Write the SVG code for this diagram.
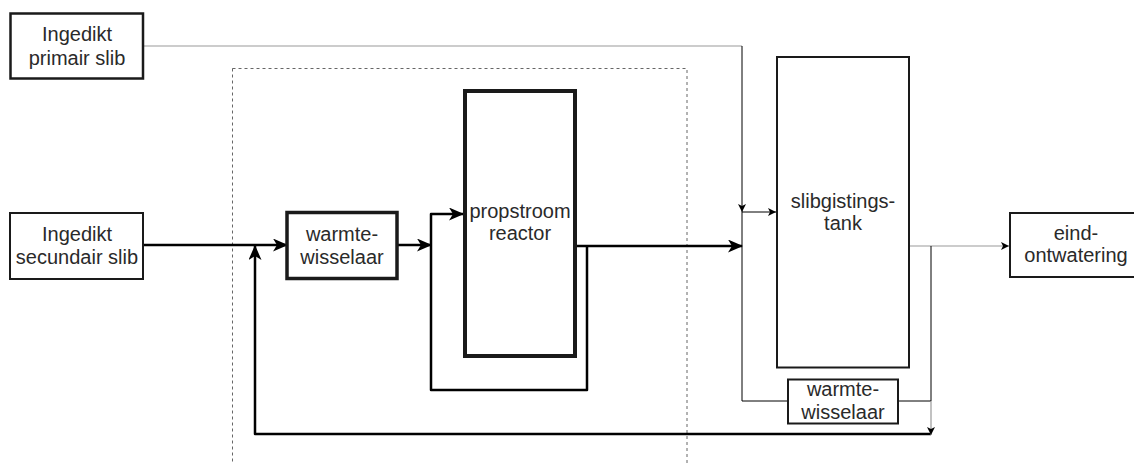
<svg xmlns="http://www.w3.org/2000/svg" width="1134" height="464" viewBox="0 0 1134 464">
<style>
.box{fill:#fff;stroke:#1a1a1a}
.t{font-family:"Liberation Sans",Arial,sans-serif;font-size:20px;fill:#2a2a2a;text-anchor:middle}
.thick{fill:none;stroke:#000;stroke-width:2.5;stroke-linejoin:round}
.thin{fill:none;stroke:#000;stroke-width:1}
.gray{fill:none;stroke:#999;stroke-width:1.2}
</style>
<defs>
<marker id="big" viewBox="0 0 15 13" refX="14" refY="6.5" markerWidth="15" markerHeight="13" markerUnits="userSpaceOnUse" orient="auto">
<path d="M0,0 L15,6.5 L0,13 L4,6.5 Z" fill="#000"/>
</marker>
<marker id="small" viewBox="0 0 8 8" refX="8" refY="4" markerWidth="8" markerHeight="8" markerUnits="userSpaceOnUse" orient="auto">
<path d="M0,0 L8,4 L0,8 L2,4 Z" fill="#000"/>
</marker>
</defs>
<rect x="232.5" y="68.5" width="454.5" height="420" fill="none" stroke="#666" stroke-width="1" stroke-dasharray="3,3"/>
<g id="connectors">
<path class="gray" d="M143,46 H742"/>
<path class="thin" d="M742,46 V212" marker-end="url(#small)"/>
<path class="thin" d="M742,212 H776" marker-end="url(#small)"/>
<path class="thin" d="M742,212 V401 H788"/>
<path class="thick" d="M143,245 H287" marker-end="url(#big)"/>
<path class="thick" d="M931,434 H255 V246" marker-end="url(#big)"/>
<path class="thick" d="M397,245 H431" marker-end="url(#big)"/>
<path class="thick" d="M431,246 V214 H463" marker-end="url(#big)"/>
<path class="thick" d="M431,246 V390 H587 V246"/>
<path class="thick" d="M577,246 H742" marker-end="url(#big)"/>
<path class="gray" d="M910,246 H1009" marker-end="url(#small)"/>
<path class="thin" d="M931,246 V401"/>
<path class="thin" d="M898,401 H931"/>
<path class="gray" d="M931,401 V435" marker-end="url(#small)"/>
</g>
<g id="primair">
<rect class="box" x="10.5" y="13.5" width="132.5" height="65" stroke-width="2.5"/>
<text class="t" x="77" y="41">Ingedikt</text>
<text class="t" x="77" y="65">primair slib</text>
</g>
<g id="secundair">
<rect class="box" x="10" y="213" width="133" height="66" stroke-width="2"/>
<text class="t" x="77" y="241">Ingedikt</text>
<text class="t" x="77" y="264">secundair slib</text>
</g>
<g id="warmte1">
<rect class="box" x="287" y="212.5" width="110" height="66" stroke-width="3.5"/>
<text class="t" x="342" y="241">warmte-</text>
<text class="t" x="342" y="264">wisselaar</text>
</g>
<g id="reactor">
<rect class="box" x="465" y="91" width="110" height="265" stroke-width="4"/>
<text class="t" x="520" y="218">propstroom</text>
<text class="t" x="520" y="240">reactor</text>
</g>
<g id="tank">
<rect class="box" x="777" y="57" width="132" height="310.5" stroke-width="2"/>
<text class="t" x="843" y="208">slibgistings-</text>
<text class="t" x="843" y="230">tank</text>
</g>
<g id="warmte2">
<rect class="box" x="788" y="379.5" width="110" height="44" stroke-width="2"/>
<text class="t" x="843" y="396">warmte-</text>
<text class="t" x="843" y="419">wisselaar</text>
</g>
<g id="eind">
<rect class="box" x="1010" y="213" width="140" height="64" stroke-width="2"/>
<text class="t" x="1076" y="240">eind-</text>
<text class="t" x="1076" y="262">ontwatering</text>
</g>
</svg>
